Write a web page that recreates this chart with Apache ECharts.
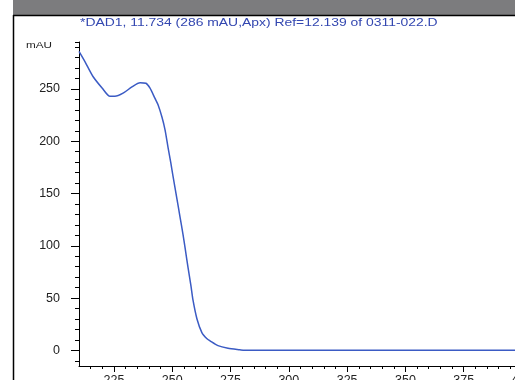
<!DOCTYPE html>
<html>
<head>
<meta charset="utf-8">
<script src="https://cdn.jsdelivr.net/npm/echarts@6/dist/echarts.min.js"></script>
<style>
  html, body { margin: 0; padding: 0; background: #fff; }
  #main { width: 515px; height: 380px; }
</style>
</head>
<body>
<div id="main"></div>
<script>
// spectrum: wavelength (nm) -> absorbance (mAU)
const wavelengths = [210, 212.6, 216, 219.9, 223.3, 225.4, 228.9, 232.7, 236.2, 238.7, 240.4, 242.6, 243.9,
  245.6, 246.9, 248.2, 249.4, 250.3, 252, 253.3, 254.6, 255.5, 256.7, 258, 258.9, 260.6, 262.7, 264.9,
  266.2, 269.6, 273.9, 279, 281, 300, 350, 400];
const absorbance = [286, 276, 262, 251, 243, 243, 246, 252, 256, 255.5, 251, 241, 235,
  223, 211, 194, 179, 167, 145, 128, 111, 98, 80, 62, 48, 30, 17, 11,
  9, 4.5, 2, 0.5, 0, 0, 0, 0];

const xMajorTicks = [225, 250, 275, 300, 325, 350, 375, 400];
const xMinorTicks = [215, 220, 230, 235, 240, 245, 255, 260, 265, 270, 280, 285, 290, 295, 305, 310, 315, 320,
  330, 335, 340, 345, 355, 360, 365, 370, 380, 385, 390, 395];
const yMajorTicks = [0, 50, 100, 150, 200, 250];
const yMinorTicks = [-10, 10, 20, 30, 40, 60, 70, 80, 90, 110, 120, 130, 140, 160, 170, 180, 190,
  210, 220, 230, 240, 260, 270, 280, 290, 295];

const titleText = '*DAD1, 11.734 (286 mAU,Apx) Ref=12.139 of 0311-022.D';

const chart = echarts.init(document.getElementById('main'));

const labelFont = { color: '#222', fontFamily: 'Liberation Sans', fontSize: 12.5 };

const option = {
  animation: false,
  backgroundColor: '#fff',
  grid: { left: 79, right: -7, top: 42, bottom: 14, outerBoundsMode: 'none', containLabel: false },
  graphic: [
    { type: 'rect', shape: { x: 13, y: 0, width: 502, height: 15 }, style: { fill: '#7c7c7e' } },
    { type: 'line', shape: { x1: 13, y1: 15.5, x2: 515, y2: 15.5 }, style: { stroke: '#000', lineWidth: 1.5 } },
    { type: 'line', shape: { x1: 13.5, y1: 15, x2: 13.5, y2: 380 }, style: { stroke: '#000', lineWidth: 1.5 } },
    {
      type: 'text', x: 80, y: 18, scaleX: 1.39,
      style: { text: titleText, fill: '#3347b0', font: '10px "Liberation Sans"' }
    },
    {
      type: 'text', x: 26, y: 41, scaleX: 1.3,
      style: { text: 'mAU', fill: '#222', font: '9px "Liberation Sans"' }
    }
  ],
  xAxis: [
    {
      type: 'value', min: 210, max: 400,
      axisLine: { show: true, onZero: false, lineStyle: { color: '#000', width: 1 } },
      axisTick: { show: true, customValues: xMajorTicks, length: 6, lineStyle: { color: '#000' } },
      axisLabel: { customValues: xMajorTicks, margin: 8, ...labelFont },
      splitLine: { show: false }
    },
    {
      type: 'value', min: 210, max: 400, position: 'bottom',
      axisLine: { show: false, onZero: false },
      axisTick: { show: true, customValues: xMinorTicks, length: 3, lineStyle: { color: '#000' } },
      axisLabel: { show: false },
      splitLine: { show: false }
    }
  ],
  yAxis: [
    {
      type: 'value', min: -15, max: 295,
      axisLine: { show: true, onZero: false, lineStyle: { color: '#000', width: 1 } },
      axisTick: { show: true, customValues: yMajorTicks, length: 8, lineStyle: { color: '#000' } },
      axisLabel: { customValues: yMajorTicks, margin: 19, ...labelFont },
      splitLine: { show: false }
    },
    {
      type: 'value', min: -15, max: 295, position: 'left',
      axisLine: { show: false, onZero: false },
      axisTick: { show: true, customValues: yMinorTicks, length: 4, lineStyle: { color: '#000' } },
      axisLabel: { show: false },
      splitLine: { show: false }
    }
  ],
  series: [
    {
      type: 'line',
      xAxisIndex: 0,
      yAxisIndex: 0,
      data: wavelengths.map((w, i) => [w, absorbance[i]]),
      showSymbol: false,
      smooth: 0.25,
      lineStyle: { color: '#3b5bc4', width: 1.5 }
    }
  ]
};

chart.setOption(option);
</script>
</body>
</html>
